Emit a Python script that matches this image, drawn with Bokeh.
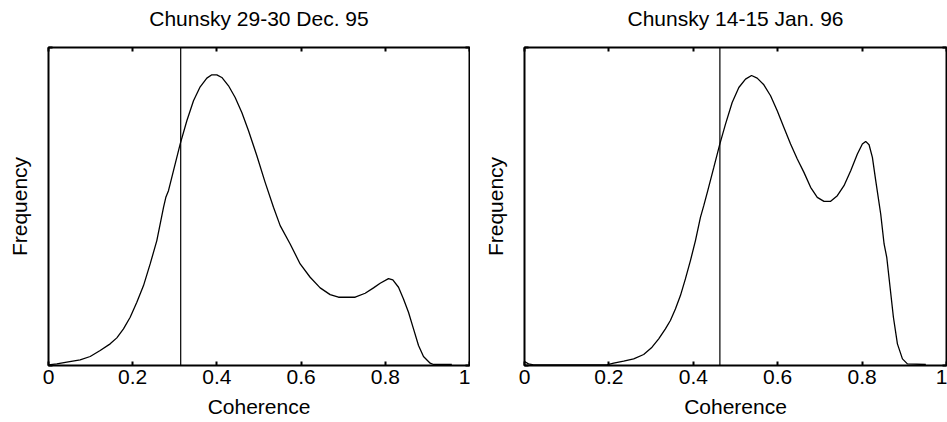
from bokeh.plotting import figure
from bokeh.layouts import row
from bokeh.models import Range1d, FixedTicker, LinearAxis, Span
from bokeh.embed import file_html
from bokeh.resources import INLINE

# ---- data ----
titles = ["Chunsky 29-30 Dec. 95", "Chunsky 14-15 Jan. 96"]
x_ticks = [0, 0.2, 0.4, 0.6, 0.8, 1]
x_tick_labels = ["0", "0.2", "0.4", "0.6", "0.8", "1"]
thresholds = [0.314, 0.463]

dec_x = [0.0, 0.0198, 0.0435, 0.0752, 0.099, 0.1227, 0.1465, 0.1623, 0.1781, 0.194,
         0.2098, 0.2257, 0.2415, 0.2573, 0.2732, 0.2787, 0.285, 0.2969, 0.3127, 0.3286,
         0.3444, 0.3603, 0.3761, 0.388, 0.3998, 0.4117, 0.4276, 0.4434, 0.4592, 0.4751,
         0.4949, 0.5146, 0.5344, 0.5503, 0.574, 0.5978, 0.6215, 0.6453, 0.669, 0.6888,
         0.7284, 0.7522, 0.772, 0.7878, 0.8076, 0.8179, 0.8314, 0.8432, 0.8551, 0.867,
         0.8789, 0.8907, 0.9066, 0.9145, 0.958]
dec_y = [0.002, 0.005, 0.0105, 0.0178, 0.0283, 0.0471, 0.0681, 0.0869, 0.1152, 0.1518,
         0.199, 0.2513, 0.3194, 0.3927, 0.4974, 0.5288, 0.5497, 0.6126, 0.6963, 0.7696,
         0.8325, 0.8764, 0.9037, 0.9141, 0.9141, 0.9058, 0.8796, 0.8429, 0.7958, 0.7382,
         0.6597, 0.5759, 0.4974, 0.4398, 0.3822, 0.3194, 0.2775, 0.244, 0.223, 0.2147,
         0.2147, 0.2272, 0.244, 0.2586, 0.2733, 0.2691, 0.2461, 0.2094, 0.1675, 0.1152,
         0.0628, 0.0283, 0.0073, 0.0031, 0.0031]

jan_x = [0.0, 0.0095, 0.0214, 0.1954, 0.2112, 0.235, 0.2587, 0.2824, 0.3022, 0.318,
         0.3339, 0.3457, 0.3576, 0.3695, 0.3813, 0.3932, 0.4051, 0.4169, 0.4248, 0.4343,
         0.4486, 0.4628, 0.4763, 0.4921, 0.5079, 0.5237, 0.538, 0.5514, 0.5672, 0.5831,
         0.5989, 0.6147, 0.6305, 0.6464, 0.6622, 0.678, 0.6938, 0.7097, 0.7255, 0.7413,
         0.7571, 0.773, 0.7888, 0.8006, 0.8085, 0.8165, 0.8244, 0.8323, 0.8441, 0.8521,
         0.8584, 0.8663, 0.8742, 0.8837, 0.8956, 0.9074, 0.951]
jan_y = [0.0126, 0.0052, 0.0021, 0.0021, 0.0073, 0.0136, 0.0209, 0.0346, 0.0576, 0.0838,
         0.1152, 0.1414, 0.178, 0.2199, 0.2723, 0.3298, 0.3927, 0.466, 0.5026, 0.5497,
         0.623, 0.6963, 0.7592, 0.8272, 0.8743, 0.9005, 0.912, 0.9037, 0.8827, 0.8482,
         0.801, 0.7487, 0.6963, 0.6492, 0.6073, 0.5602, 0.5288, 0.5162, 0.5162, 0.534,
         0.5654, 0.6126, 0.6649, 0.6963, 0.7047, 0.6942, 0.6545, 0.5812, 0.4764, 0.3822,
         0.3403, 0.2461, 0.1518, 0.0681, 0.0209, 0.0052, 0.0031]

FONT = "Liberation Sans"
FS = "21px"


def hidden_tick_axis(ticks):
    return LinearAxis(ticker=FixedTicker(ticks=ticks), major_label_text_font_size="1px",
                      major_label_text_color=None, major_label_standoff=0,
                      axis_line_color=None, major_tick_in=4, major_tick_out=0,
                      major_tick_line_width=2, minor_tick_line_color=None)


def make_panel(title, xs, ys, thr, width, left_border):
    p = figure(width=width, height=422, output_backend="svg", toolbar_location=None,
               x_range=Range1d(0, 1), y_range=Range1d(0, 1),
               min_border_left=left_border, min_border_right=1,
               min_border_top=47, min_border_bottom=57)
    p.grid.visible = False
    p.outline_line_color = "black"
    p.outline_line_width = 2
    p.outline_line_alpha = 1
    p.background_fill_color = "white"
    p.border_fill_color = "white"

    xa = p.xaxis[0]
    xa.ticker = FixedTicker(ticks=x_ticks)
    xa.major_label_overrides = {t: l for t, l in zip(x_ticks, x_tick_labels)}
    xa.axis_label = "Coherence"
    ya = p.yaxis[0]
    ya.ticker = FixedTicker(ticks=[0, 1])
    ya.axis_label = "Frequency"
    ya.major_label_text_font_size = "1px"
    ya.major_label_text_color = None
    ya.major_label_standoff = 0
    ya.axis_label_standoff = 18

    # top axis: carries the mirrored ticks and the panel title
    top = hidden_tick_axis(x_ticks)
    top.axis_label = title
    top.axis_label_standoff = 18
    p.add_layout(top, "above")
    right = hidden_tick_axis([0, 1])
    p.add_layout(right, "right")

    for ax in (xa, ya, top):
        ax.axis_line_color = None
        ax.major_tick_in = 4
        ax.major_tick_out = 0
        ax.major_tick_line_width = 2
        ax.minor_tick_line_color = None
        ax.major_label_text_font = FONT
        ax.axis_label_text_font = FONT
        ax.axis_label_text_font_size = FS
        ax.axis_label_text_font_style = "normal"
        ax.axis_label_text_color = "black"
    xa.major_label_text_font_size = FS
    xa.major_label_text_color = "black"
    xa.major_label_standoff = 4
    xa.axis_label_standoff = 8

    p.line(xs, ys, line_color="black", line_width=1.3)
    p.add_layout(Span(location=thr, dimension="height", line_color="black", line_width=1.2))
    return p


p1 = make_panel(titles[0], dec_x, dec_y, thresholds[0], 470, 48)
p2 = make_panel(titles[1], jan_x, jan_y, thresholds[1], 477, 54)
layout = row(p1, p2)

open("out.html", "w").write(file_html(layout, INLINE))
